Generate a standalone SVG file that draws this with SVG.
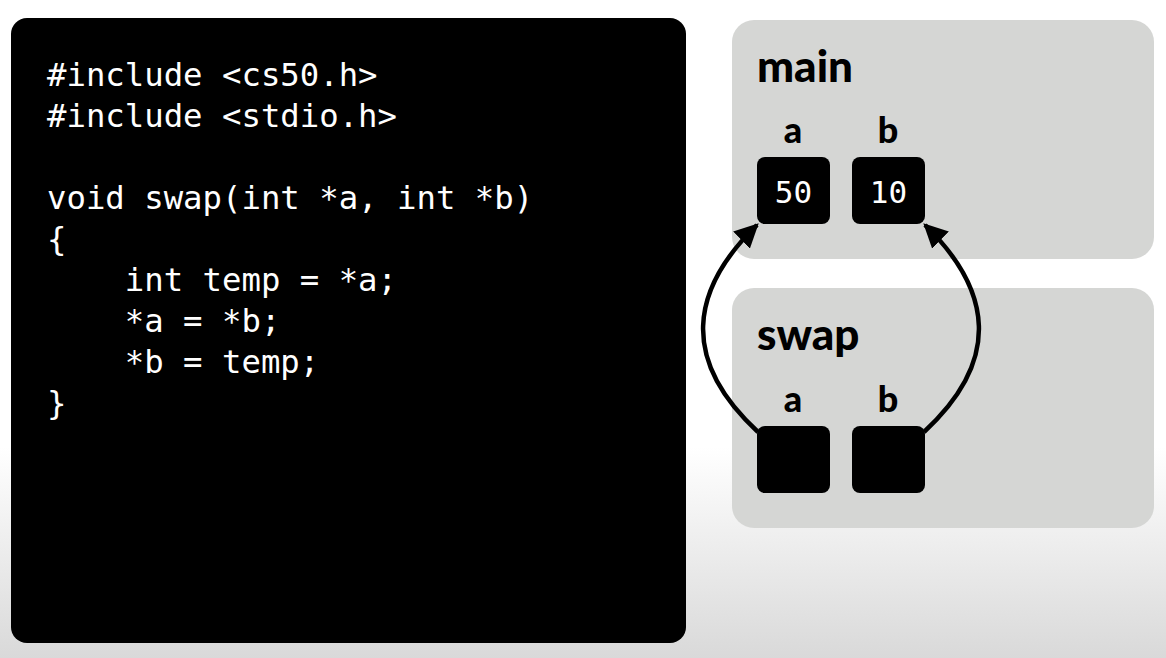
<svg xmlns="http://www.w3.org/2000/svg" width="1166" height="658" viewBox="0 0 1166 658">
  <defs>
    <linearGradient id="bg" x1="0" y1="0" x2="0" y2="1">
      <stop offset="0" stop-color="#ffffff"/>
      <stop offset="0.68" stop-color="#ffffff"/>
      <stop offset="1" stop-color="#d9d9d9"/>
    </linearGradient>
    <marker id="arrow" viewBox="0 0 10 10" refX="9" refY="5" markerWidth="24" markerHeight="24" markerUnits="userSpaceOnUse" orient="auto">
      <path d="M0,0 L10,5 L0,10 z" fill="#000"/>
    </marker>
    <style>
      .code { font-family: "DejaVu Sans Mono", "Liberation Mono", monospace; font-size: 32.3px; fill: #ffffff; white-space: pre; }
      .frame { fill: #d5d6d4; }
      .title { font-family: Lato, "Liberation Sans", sans-serif; font-weight: 900; font-size: 44px; fill: #000; }
      .var { font-family: Lato, "Liberation Sans", sans-serif; font-weight: 900; font-size: 36px; fill: #000; text-anchor: middle; }
      .cell { fill: #000; }
      .val { font-family: "DejaVu Sans Mono", "Liberation Mono", monospace; font-size: 31px; fill: #fff; text-anchor: middle; }
      .conn { fill: none; stroke: #000; stroke-width: 4.5; marker-end: url(#arrow); }
    </style>
  </defs>
  <rect x="0" y="0" width="1166" height="658" fill="url(#bg)"/>

  <g id="code-panel">
    <rect x="11" y="18" width="675" height="625" rx="16" fill="#000"/>
    <text class="code" x="47" y="86" xml:space="preserve">#include &lt;cs50.h&gt;</text>
    <text class="code" x="47" y="127" xml:space="preserve">#include &lt;stdio.h&gt;</text>
    <text class="code" x="47" y="209" xml:space="preserve">void swap(int *a, int *b)</text>
    <text class="code" x="47" y="250" xml:space="preserve">{</text>
    <text class="code" x="47" y="291" xml:space="preserve">    int temp = *a;</text>
    <text class="code" x="47" y="332" xml:space="preserve">    *a = *b;</text>
    <text class="code" x="47" y="373" xml:space="preserve">    *b = temp;</text>
    <text class="code" x="47" y="414" xml:space="preserve">}</text>
  </g>

  <g id="main-frame">
    <rect class="frame" x="732" y="20" width="422" height="239" rx="22"/>
    <text class="title" x="757" y="82">main</text>
  </g>
  <g id="swap-frame">
    <rect class="frame" x="732" y="288" width="422" height="240" rx="22"/>
    <text class="title" x="757" y="350">swap</text>
  </g>

  <g id="connectors">
    <path class="conn" d="M758 432 C680 360 690 290 757 225"/>
    <path class="conn" d="M924 432 C1002 360 992 290 925 225"/>
  </g>

  <g id="main-a">
    <text class="var" x="793" y="143">a</text>
    <rect class="cell" x="757" y="157" width="73" height="67" rx="8"/>
    <text class="val" x="793.5" y="203">50</text>
  </g>
  <g id="main-b">
    <text class="var" x="888" y="143">b</text>
    <rect class="cell" x="852" y="157" width="73" height="67" rx="8"/>
    <text class="val" x="888.5" y="203">10</text>
  </g>
  <g id="swap-a">
    <text class="var" x="793" y="412">a</text>
    <rect class="cell" x="757" y="426" width="73" height="67" rx="8"/>
  </g>
  <g id="swap-b">
    <text class="var" x="888" y="412">b</text>
    <rect class="cell" x="852" y="426" width="73" height="67" rx="8"/>
  </g>
</svg>
